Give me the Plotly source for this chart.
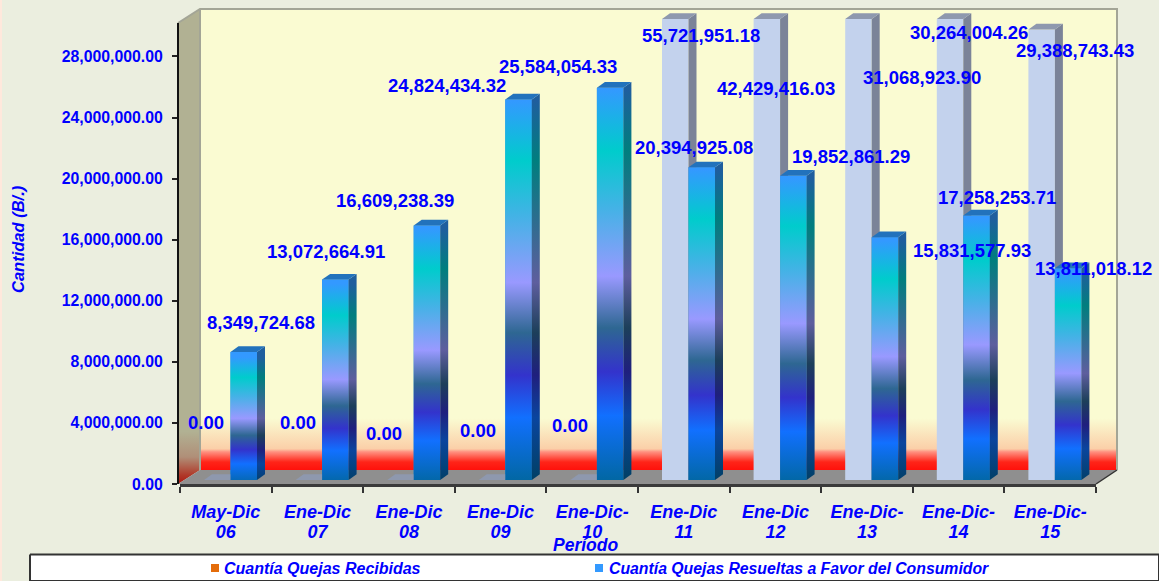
import plotly.graph_objects as go

W, H = 1159, 581
BOTTOM_RESERVE = 9  # plotly keeps this much below the plot area here; it falls outside the window

# ---------- data ----------
period_line1 = ["May-Dic", "Ene-Dic", "Ene-Dic", "Ene-Dic", "Ene-Dic-", "Ene-Dic", "Ene-Dic", "Ene-Dic-", "Ene-Dic-", "Ene-Dic-"]
period_line2 = ["06", "07", "08", "09", "10", "11", "12", "13", "14", "15"]
recibidas = [0.00, 0.00, 0.00, 0.00, 0.00, 55721951.18, 42429416.03, 31068923.90, 30264004.26, 29388743.43]
resueltas = [8349724.68, 13072664.91, 16609238.39, 24824434.32, 25584054.33, 20394925.08, 19852861.29, 15831577.93, 17258253.71, 13811018.12]
y_ticks = [0, 4e6, 8e6, 12e6, 16e6, 20e6, 24e6, 28e6]

# ---------- label placement (pixel centres of the value labels) ----------
recibidas_label_xy = [(206, 422), (298, 422), (384, 433), (478, 430), (570, 426),
                      (701, 36), (776, 88), (922, 78), (969, 32), (1075, 50)]
resueltas_label_xy = [(261, 322), (326, 251), (395, 201), (447, 85), (558, 66),
                      (694, 147), (851, 156), (972, 250), (997, 197), (1093, 268)]

# ---------- geometry ----------
AX_L, AX_R, AX_T, AX_B = 180, 1096, 23, 484
WALL_L, WALL_R, WALL_T, WALL_B = 200, 1117, 9, 470
BAR_SHIFT_X, BAR_T, BAR_B, BAR_TOP_ROOM = 4.7, 19, 480, 9
TICK_SCALE, BAR_SCALE = 15.27e-6, 15.33e-6
Y_MAX_AXIS = (AX_B - AX_T) / TICK_SCALE
Y_CLIP = (BAR_B - BAR_T) / BAR_SCALE
Y_MAX_BAR = (BAR_B - BAR_TOP_ROOM) / BAR_SCALE
CAT_PX = (AX_R - AX_L) / 10
BAR_W = 26.5 / CAT_PX
DEPTH_X = 8 / CAT_PX
DEPTH_Y = 5.7 / BAR_SCALE

BLUE = "#0000FF"
FAMILY = "Liberation Sans, Arial, sans-serif"
BG = "#EBEEDF"

GRAD = [(0, (0x33, 0x99, 0xFF)), (.155, (0x00, 0xCC, 0xCC)), (.30, (0x44, 0xB2, 0xE6)),
        (.47, (0x99, 0x99, 0xFF)), (.60, (0x2E, 0x67, 0x92)), (.71, (0x33, 0x33, 0xCC)),
        (.82, (0x11, 0x70, 0xFF)), (1, (0x00, 0x66, 0x99))]


def scale(k):
    return [[p, "rgb(%d,%d,%d)" % tuple(int(c * k) for c in rgb)] for p, rgb in GRAD]


def hidden(**kw):
    d = dict(visible=False, showgrid=False, zeroline=False, fixedrange=True)
    d.update(kw)
    return d


def dom_x(a, b):
    return [a / W, b / W]


def dom_y(top, bottom):
    return [1 - bottom / H, 1 - top / H]


fig = go.Figure()


def poly(xs, ys, axes, color=None, grad=None, name="", line=None):
    kw = dict(x=xs, y=ys, xaxis=axes[0], yaxis=axes[1], fill="toself", mode="lines",
              line=line or dict(width=0), hoverinfo="skip", showlegend=False, name=name, cliponaxis=False)
    if grad:
        kw["fillgradient"] = grad
    else:
        kw["fillcolor"] = color
    fig.add_trace(go.Scatter(**kw))


def edge(xs, ys, color, width):
    fig.add_trace(go.Scatter(x=xs, y=ys, xaxis="x", yaxis="y", mode="lines", hoverinfo="skip",
                             line=dict(color=color, width=width), showlegend=False, cliponaxis=False))


PX = ("x", "y")
poly([0, 2, 2, 0], [0, 0, H, H], PX, color="#FFE8DC")
poly([WALL_L, WALL_R, WALL_R, WALL_L], [WALL_T, WALL_T, WALL_B, WALL_B], PX, grad=dict(
    type="vertical", start=WALL_T, stop=WALL_B,
    colorscale=[[0, "#FAFBD2"], [(412 - WALL_T) / 461, "#FAFBD2"], [(442 - WALL_T) / 461, "#FBCFA8"],
                [(445 - WALL_T) / 461, "#FF9080"], [(455 - WALL_T) / 461, "#FF2418"], [1, "#FF0000"]]))
poly([AX_L - 2, WALL_L, WALL_L, AX_L - 2], [AX_T, WALL_T, WALL_B, AX_B], PX, grad=dict(
    type="vertical", start=AX_T, stop=AX_B,
    colorscale=[[0, "#B1B193"], [(425 - AX_T) / 461, "#B1B193"], [(450 - AX_T) / 461, "#B08F78"],
                [(468 - AX_T) / 461, "#B03828"], [1, "#A80000"]]))
poly([AX_L - 2, WALL_L, WALL_R, AX_R], [AX_B, WALL_B, WALL_B, AX_B], PX, color="#8F8F8F")
edge([AX_L - 2, WALL_L, WALL_R, WALL_R], [AX_T, WALL_T, WALL_T, WALL_B], "#A3A596", 2)
edge([WALL_L, WALL_L], [WALL_T, WALL_B], "#A3A596", 2)
edge([AX_R, WALL_R], [AX_B, WALL_B], "#333333", 1.5)

poly([30, W, W, 30, 30], [554.5, 554.5, H, H, 554.5], PX, color="#FFFFFF",
     line=dict(color="#333333", width=2))
poly([211, 219, 219, 211], [564, 564, 572, 572], PX, grad=dict(
    type="vertical", start=564, stop=572,
    colorscale=[[0, "#E46C0A"], [.45, "#E46C0A"], [.55, "#B8C8E6"], [1, "#E4EAF6"]]))
poly([595, 603, 603, 595], [564, 564, 572, 572], PX, grad=dict(
    type="vertical", start=564, stop=572, colorscale=scale(1)))

fig.add_trace(go.Scatter(x=[0], y=[0], xaxis="x2", yaxis="y2", mode="none", showlegend=False, hoverinfo="skip"))
fig.add_trace(go.Scatter(x=[0], y=[0], xaxis="x4", yaxis="y2", mode="none", showlegend=False, hoverinfo="skip"))
fig.add_trace(go.Scatter(x=[0], y=[0], xaxis="x5", yaxis="y2", mode="none", showlegend=False, hoverinfo="skip"))

BARS = ("x3", "y3")
centers = [i + 0.5 for i in range(10)]
fig.add_trace(go.Bar(x=centers, y=[min(v, Y_CLIP) for v in recibidas], width=BAR_W, offset=-BAR_W,
                     xaxis="x3", yaxis="y3",
                     marker=dict(color="#C3D2ED", line=dict(width=0)), name="Cuantía Quejas Recibidas",
                     showlegend=False, hoverinfo="skip"))
fig.add_trace(go.Bar(x=centers, y=resueltas, width=BAR_W, offset=0, xaxis="x3", yaxis="y3",
                     marker=dict(color="#1A8FD8", line=dict(width=0)),
                     name="Cuantía Quejas Resueltas a Favor del Consumidor",
                     showlegend=False, hoverinfo="skip"))

side_x, side_y, cap_x, cap_y = [], [], [], []
for c, v in zip(centers, recibidas):
    t = min(v, Y_CLIP)
    side_x += [c, c + DEPTH_X, c + DEPTH_X, c, None]
    side_y += [0, DEPTH_Y, t + DEPTH_Y, t, None]
    cap_x += [c - BAR_W, c, c + DEPTH_X, c - BAR_W + DEPTH_X, None]
    cap_y += [t, t, t + DEPTH_Y, t + DEPTH_Y, None]
poly(side_x, side_y, BARS, color="#7B8398", name="side")
poly(cap_x, cap_y, BARS, color="#8E98AE", name="cap")

for c, v in zip(centers, resueltas):
    xl, xr = c, c + BAR_W
    poly([xl, xr, xr, xl], [0, 0, v, v], BARS,
         grad=dict(type="vertical", start=v, stop=0, colorscale=scale(1)))
    poly([xr, xr + DEPTH_X, xr + DEPTH_X, xr], [0, DEPTH_Y, v + DEPTH_Y, v], BARS,
         grad=dict(type="vertical", start=v, stop=0, colorscale=scale(.62)))
    poly([xl, xr, xr + DEPTH_X, xl + DEPTH_X], [v, v, v + DEPTH_Y, v + DEPTH_Y], BARS, color="#2272BC")

anns = []


def px_text(text, x, y, size, italic=False, anchor="center", angle=0):
    anns.append(dict(text=text, x=x / W, y=1 - y / H, xref="paper", yref="paper", showarrow=False,
                     xanchor=anchor, yanchor="middle", textangle=angle,
                     font=dict(family=FAMILY, size=size, color=BLUE, weight="bold",
                               style="italic" if italic else "normal")))


for val, (x, y) in zip(recibidas, recibidas_label_xy):
    px_text(f"{val:,.2f}", x, y, 18.5)
for val, (x, y) in zip(resueltas, resueltas_label_xy):
    px_text(f"{val:,.2f}", x, y, 18.5)
px_text("Período", 585, 545, 17.5, italic=True)
px_text("Cantidad (B/.)", 18, 239, 16.5, italic=True, angle=-90)
px_text("Cuantía Quejas Recibidas", 222, 568.5, 16, italic=True, anchor="left")
px_text("Cuantía Quejas Resueltas a Favor del Consumidor", 607, 568.5, 15.8, italic=True, anchor="left")

tick_font = dict(family=FAMILY, size=15.8, color=BLUE, weight="bold")
cat_font = dict(family=FAMILY, size=18, color=BLUE, weight="bold", style="italic")

fig.update_layout(
    width=W, height=H + BOTTOM_RESERVE, autosize=False, margin=dict(l=0, r=0, t=0, b=0, pad=0),
    paper_bgcolor=BG, plot_bgcolor="rgba(0,0,0,0)", barmode="overlay", showlegend=False,
    annotations=anns,
    xaxis=hidden(domain=[0, 1], range=[0, W]),
    yaxis=hidden(domain=[0, 1], range=[H, 0]),
    xaxis2=dict(domain=dom_x(AX_L, AX_R), range=[0, 10], anchor="y2", showgrid=False, zeroline=False,
                tickmode="array", tickvals=list(range(11)), ticktext=[""] * 11, ticks="outside",
                ticklen=6, tickwidth=2, tickcolor="#333333", showline=True, linecolor="#3A3A3A",
                linewidth=3, fixedrange=True),
    yaxis2=dict(domain=dom_y(AX_T, AX_B), range=[0, Y_MAX_AXIS], anchor="free",
                position=178 / W, showgrid=False, zeroline=False, tickmode="array", tickvals=y_ticks,
                tickformat=",.2f", ticks="outside", ticklen=5, tickwidth=2, tickcolor="#222222",
                showline=True, linecolor="#111111", linewidth=2, tickfont=tick_font,
                ticklabelstandoff=6, fixedrange=True),
    xaxis3=hidden(domain=dom_x(AX_L + BAR_SHIFT_X, AX_R + BAR_SHIFT_X), range=[0, 10], anchor="y3"),
    yaxis3=hidden(domain=dom_y(BAR_TOP_ROOM, BAR_B), range=[0, Y_MAX_BAR], anchor="x3"),
    xaxis4=dict(domain=dom_x(AX_L, AX_R), range=[0, 10], anchor="y2", showgrid=False, zeroline=False,
                showline=False, tickmode="array", tickvals=centers, ticktext=period_line1, ticks="",
                tickfont=cat_font, ticklabelstandoff=15, fixedrange=True),
    xaxis5=dict(domain=dom_x(AX_L, AX_R), range=[0, 10], anchor="y2", showgrid=False, zeroline=False,
                showline=False, tickmode="array", tickvals=centers, ticktext=period_line2, ticks="",
                tickfont=cat_font, ticklabelstandoff=35, fixedrange=True),
)

fig.write_html("out.html", config=dict(displayModeBar=False),
               post_script="document.body.style.margin='0';document.body.style.overflow='hidden';")
